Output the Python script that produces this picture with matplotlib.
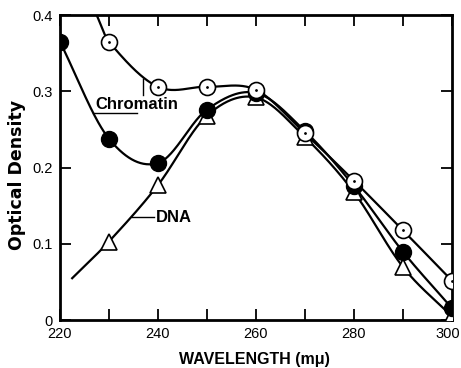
import matplotlib.pyplot as plt
import matplotlib.transforms as mtransforms
import numpy as np

plt.rcParams['font.family'] = ['Liberation Sans', 'DejaVu Sans']

wavelength = [220, 230, 240, 250, 260, 270, 280, 290, 300]
filled_od = [0.365, 0.238, 0.206, 0.276, 0.298, 0.248, 0.176, 0.090, 0.016]

open_wl = [230, 240, 250, 260, 270, 280, 290, 300]
open_od = [0.365, 0.306, 0.306, 0.302, 0.245, 0.183, 0.118, 0.052]

dna_wl = [230, 240, 250, 260, 270, 280, 290, 300]
dna_od = [0.103, 0.177, 0.268, 0.292, 0.240, 0.168, 0.070, 0.005]

# hand-drawn curve ends that go past the measured points
open_start = (227.5, 0.400)
dna_start = (222.5, 0.055)


def smooth(x, y, n=400):
    # Catmull-Rom style cubic through the points
    x = np.asarray(x, float)
    y = np.asarray(y, float)
    k = len(x)
    h = np.diff(x)
    m = np.zeros(k)
    m[1:-1] = (y[2:] - y[:-2]) / (x[2:] - x[:-2])
    m[0] = (y[1] - y[0]) / h[0]
    m[-1] = (y[-1] - y[-2]) / h[-1]
    xs = np.linspace(x[0], x[-1], n)
    j = np.clip(np.searchsorted(x, xs) - 1, 0, k - 2)
    t = (xs - x[j]) / h[j]
    h00 = 2 * t ** 3 - 3 * t ** 2 + 1
    h10 = t ** 3 - 2 * t ** 2 + t
    h01 = -2 * t ** 3 + 3 * t ** 2
    h11 = t ** 3 - t ** 2
    ys = h00 * y[j] + h10 * h[j] * m[j] + h01 * y[j + 1] + h11 * h[j] * m[j + 1]
    return xs, ys


fig = plt.figure(figsize=(4.61, 3.68), dpi=100)
ax = fig.add_axes([0.130, 0.130, 0.850, 0.829])

lw = 1.6
xs, ys = smooth(wavelength, filled_od)
ax.plot(xs, ys, color='black', lw=lw)
xs, ys = smooth([open_start[0]] + open_wl, [open_start[1]] + open_od)
ax.plot(xs, ys, color='black', lw=lw)
xs, ys = smooth([dna_start[0]] + dna_wl, [dna_start[1]] + dna_od)
ax.plot(xs, ys, color='black', lw=lw)

ax.plot(dna_wl, dna_od, linestyle='none', marker='^', markersize=11,
        markerfacecolor='white', markeredgecolor='black', markeredgewidth=1.2, zorder=3)
ax.plot(wavelength, filled_od, linestyle='none', marker='o', markersize=11.5,
        color='black', zorder=4)
ax.plot(open_wl, open_od, linestyle='none', marker='o', markersize=11.5,
        markerfacecolor='white', markeredgecolor='black', markeredgewidth=1.2, zorder=5)
ax.plot(open_wl, open_od, linestyle='none', marker='.', markersize=2,
        color='black', zorder=6)

# labels with leader lines
ax.text(227.3, 0.273, 'Chromatin', fontsize=12, fontweight='bold', ha='left', va='bottom')
ax.plot([226.8, 235.8], [0.271, 0.271], color='black', lw=1)
ax.plot([236.9, 236.9], [0.295, 0.316], color='black', lw=1)
ax.text(239.6, 0.134, 'DNA', fontsize=12, fontweight='bold', ha='left', va='center')
ax.plot([234.7, 239.2], [0.135, 0.135], color='black', lw=1)

ax.set_xlim(220, 300)
ax.set_ylim(0, 0.4)
ax.set_xticks(np.arange(220, 301, 10))
ax.set_xticklabels(['220', '', '240', '', '260', '', '280', '', '300'])
ax.set_yticks([0, 0.1, 0.2, 0.3, 0.4])
ax.set_yticklabels(['0', '0.1', '0.2', '0.3', '0.4'])
ax.tick_params(direction='in', length=8, width=1.3, top=True, right=True,
               labelsize=10.5, pad=5)
for s in ax.spines.values():
    s.set_linewidth(2)

# keep the last x label inside the picture
last = ax.get_xticklabels()[-1]
last.set_transform(last.get_transform() +
                   mtransforms.ScaledTranslation(-3 / 72, 0, fig.dpi_scale_trans))

fig.text(0.553, 0.022, 'WAVELENGTH (m\u03bc)', fontsize=11.5, fontweight='bold',
         ha='center', va='center')
fig.text(0.037, 0.525, 'Optical Density', fontsize=12.5, fontweight='bold',
         family=['DejaVu Sans'], ha='center', va='center', rotation=90)

fig.savefig('out.png', dpi=100)
